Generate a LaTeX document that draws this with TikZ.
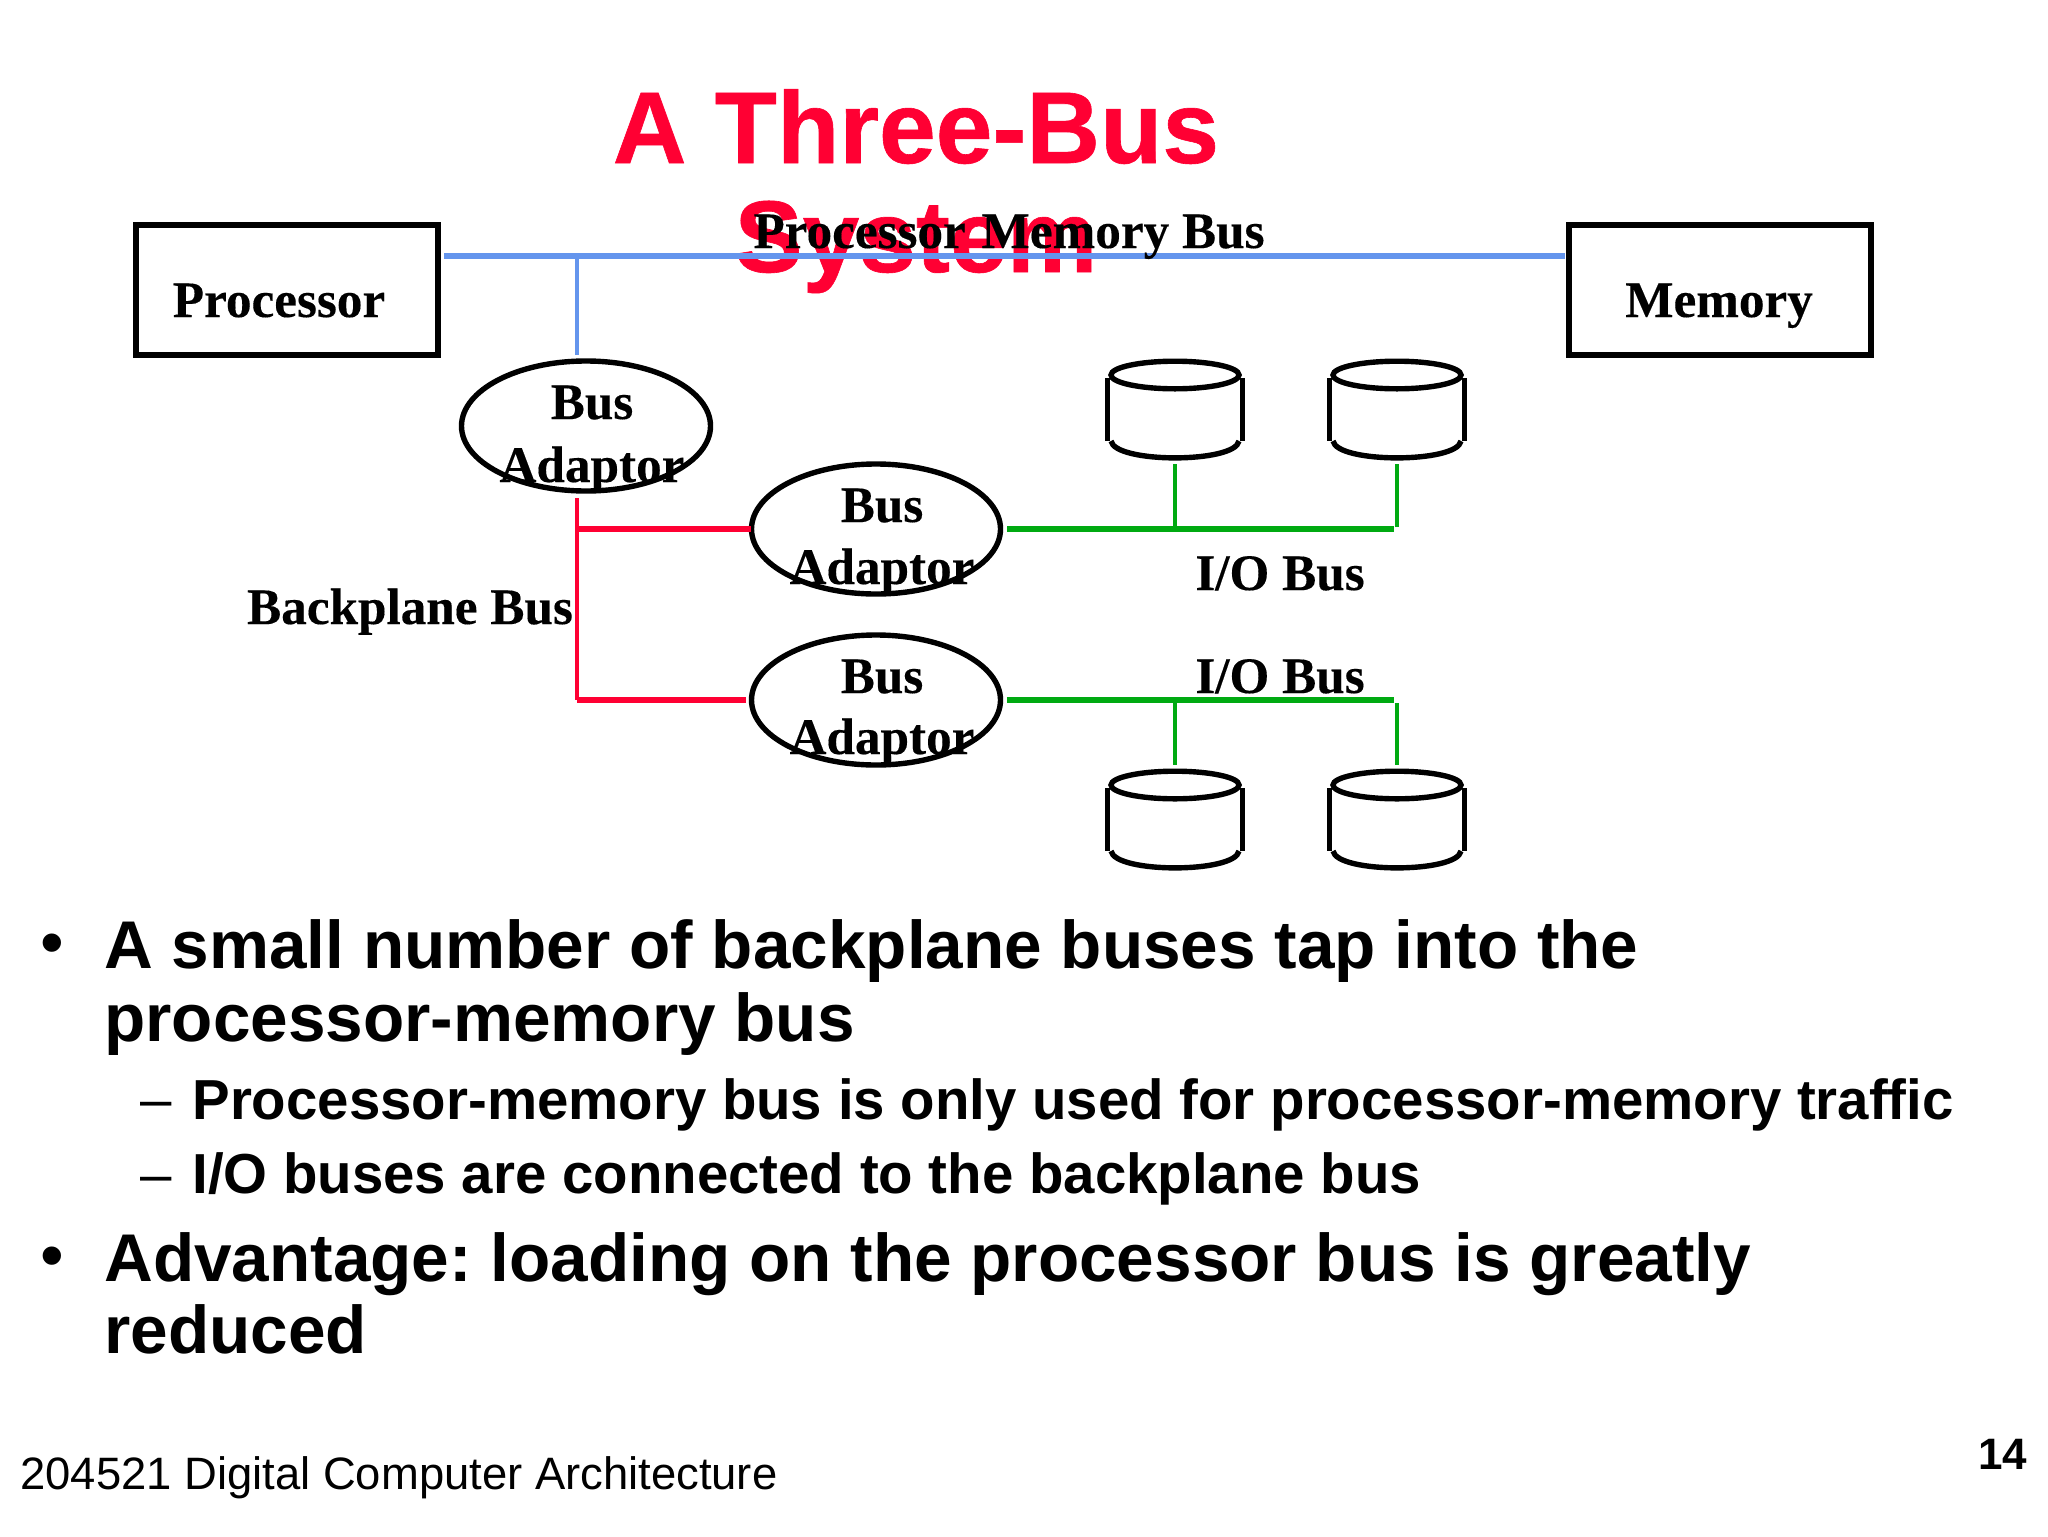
\documentclass[tikz,border=0pt]{standalone}
\usepackage{fontspec}
\setmainfont{Liberation Sans}
\newfontfamily\tnr[BoldFeatures={FakeBold=0.25}]{Liberation Serif}
\newfontfamily\ttlf[BoldFeatures={FakeBold=0.6}]{Liberation Sans}
\usetikzlibrary{shapes.geometric}
\definecolor{titlered}{HTML}{FF0033}
\definecolor{busblue}{HTML}{6495ED}
\definecolor{busgreen}{HTML}{00AA11}
\frenchspacing
\tikzset{
  box/.style={draw=black,line width=2.8pt,minimum width=151pt,minimum height=65pt,inner sep=0pt,outer sep=0pt},
  adaptor/.style={draw=black,line width=2.7pt,ellipse,minimum width=124.5pt,minimum height=65pt,inner sep=0pt,outer sep=0pt},
  lab/.style={anchor=base,inner sep=0pt,font=\tnr\bfseries\fontsize{25.6}{30}\selectfont},
  titletxt/.style={anchor=base,inner sep=0pt,text=titlered,font=\ttlf\bfseries\fontsize{51}{60}\selectfont},
  lvlone/.style={anchor=base west,inner sep=0pt,font=\bfseries\fontsize{33.75}{38}\selectfont},
  lvltwo/.style={anchor=base west,inner sep=0pt,font=\bfseries\fontsize{28.2}{34}\selectfont},
  mark one/.style={anchor=base west,inner sep=0pt,font=\fontsize{33.75}{38}\selectfont},
  mark two/.style={anchor=base west,inner sep=0pt,font=\fontsize{28.2}{34}\selectfont},
  foot/.style={anchor=base west,inner sep=0pt,font=\fontsize{22.7}{28}\selectfont},
  bigbus/.style={line width=3.2pt},
  thinbus/.style={line width=2.4pt},
  disk/.style={line width=2.7pt,draw=black},
}
\newcommand{\diskat}[3]{% name, x, top y
  \coordinate (#1-t) at (#2,#3-20);
  \coordinate (#1-b) at (#2,#3+89);
  \draw[disk] (#2,#3) ellipse [x radius=32pt,y radius=6.9pt];
  \draw[disk] (#2-67.5,#3+3) -- (#2-67.5,#3+66);
  \draw[disk] (#2+67.5,#3+3) -- (#2+67.5,#3+66);
  \draw[disk] (#2-64,#3+66) .. controls (#2-60,#3+88.5) and (#2+60,#3+88.5) .. (#2+64,#3+66);
}
\begin{document}
\begin{tikzpicture}[x=0.5pt,y=-0.5pt]
\useasboundingbox (0,0) rectangle (2048,1536);
% title
\node[titletxt] (t1) at (916,163) {A Three-Bus};
\node[titletxt] (t2) at (916,272) {System};
% boxes
\node[box] (proc) at (287,290) {};
\node[box] (mem) at (1720,290) {};
\node[lab] (proclab) at (279,317) {Processor};
\node[lab] (memlab) at (1719,317) {Memory};
% adaptors
\node[adaptor] (a1) at (586,426) {};
\node[adaptor] (a2) at (876,529) {};
\node[adaptor] (a3) at (876,700) {};
\node[lab] (a1x) at (592,419) {Bus};
\node[lab] (a1y) at (592,482) {Adaptor};
\node[lab] (a2x) at (882,522) {Bus};
\node[lab] (a2y) at (882,584) {Adaptor};
\node[lab] (a3x) at (882,693) {Bus};
\node[lab] (a3y) at (882,754) {Adaptor};
% disks
\diskat{d1}{1175}{375}
\diskat{d2}{1397}{375}
\diskat{d3}{1175}{785}
\diskat{d4}{1397}{785}
% processor-memory bus
\coordinate (pml) at (444,256);
\coordinate (pmr) at (1565,256);
\coordinate (pmt) at (577,256);
\coordinate (a1t) at (577,355);
\draw[busblue,thinbus] (pmt) -- (a1t);
% backplane bus
\coordinate (bt) at (577,498);
\coordinate (bm) at (577,529);
\coordinate (bb) at (577,700);
\coordinate (a2l) at (751,529);
\coordinate (a3l) at (746,700);
\draw[titlered,thinbus] (bt) -- (bb);
\draw[titlered,bigbus] (bm) -- (a2l);
\draw[titlered,bigbus] (bb) -- (a3l);
% i/o buses
\coordinate (u0) at (1007,529);
\coordinate (u1) at (1175,529);
\coordinate (u2) at (1397,527);
\coordinate (u3) at (1394,529);
\coordinate (l0) at (1007,700);
\coordinate (l1) at (1175,700);
\coordinate (l2) at (1397,703);
\coordinate (l3) at (1394,700);
\draw[busgreen,bigbus] (u0) -- (u3);
\draw[busgreen,bigbus] (l0) -- (l3);
\draw[busgreen,thinbus] (u1) -- (d1-b);
\draw[busgreen,thinbus] (u2) -- (d2-b);
\draw[busgreen,thinbus] (l1) -- (d3-t);
\draw[busgreen,thinbus] (l2) -- (d4-t);
% bus labels (the bus line is drawn over the title, under the label)
\draw[busblue,bigbus] (pml) -- (pmr);
\node[lab] (pmlab) at (1009,248) {Processor\ \kern1.5pt Memory Bus};
\node[lab] (bplab) at (410,624) {Backplane Bus};
\node[lab] (io1) at (1280,590) {I/O Bus};
\node[lab] (io2) at (1280,693) {I/O Bus};
% bullets
\node[mark one] (b1) at (40,965) {•};
\node[lvlone] (l1a) at (104,968) {A small number of backplane buses tap into the};
\node[lvlone] (l1b) at (104,1041) {processor-memory bus};
\node[mark two] (b2) at (140,1118) {–};
\node[lvltwo] (l2a) at (192,1119) {Processor-memory bus is only used for processor-memory traffic};
\node[mark two] (b3) at (140,1193) {–};
\node[lvltwo] (l3a) at (192,1193) {I/O buses are connected to the backplane bus};
\node[mark one] (b4) at (40,1278) {•};
\node[lvlone] (l4a) at (104,1281) {Advantage: loading on the processor bus is greatly};
\node[lvlone] (l4b) at (104,1353) {reduced};
% footer
\node[foot] (ft) at (20,1489) {204521 Digital Computer Architecture};
\node[foot,font=\bfseries\fontsize{22}{26}\selectfont] (pg) at (1978,1469) {14};
\end{tikzpicture}
\end{document}
